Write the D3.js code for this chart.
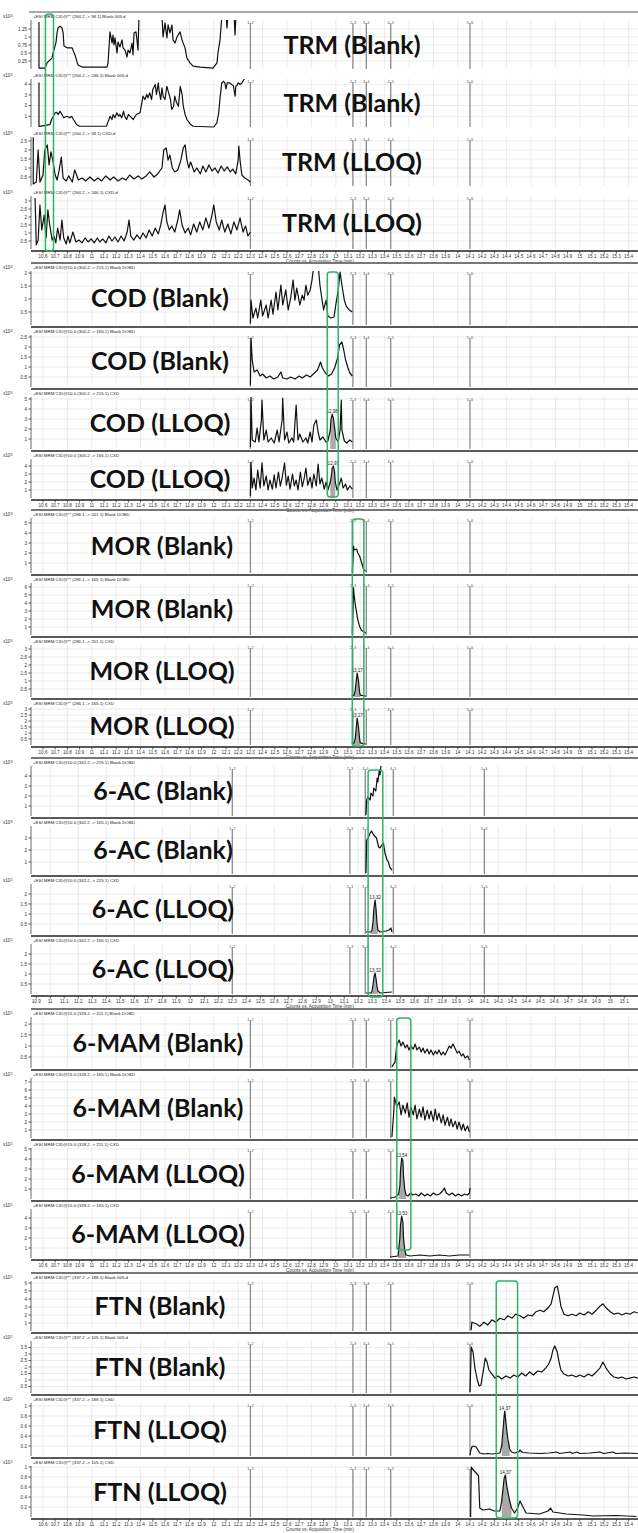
<!DOCTYPE html>
<html><head><meta charset="utf-8">
<script src="https://cdn.jsdelivr.net/npm/d3@7"></script>
<style>body{margin:0;background:#fff}svg{display:block}</style>
</head><body>
<script>
// ---------------- DATA ----------------
const panelTitles = [
 "TRM (Blank)","TRM (Blank)","TRM (LLOQ)","TRM (LLOQ)",
 "COD (Blank)","COD (Blank)","COD (LLOQ)","COD (LLOQ)",
 "MOR (Blank)","MOR (Blank)","MOR (LLOQ)","MOR (LLOQ)",
 "6-AC (Blank)","6-AC (Blank)","6-AC (LLOQ)","6-AC (LLOQ)",
 "6-MAM (Blank)","6-MAM (Blank)","6-MAM (LLOQ)","6-MAM (LLOQ)",
 "FTN (Blank)","FTN (Blank)","FTN (LLOQ)","FTN (LLOQ)"];
const panelHeaders = [
 "+ESI MRM CID@** (264.2 -> 58.1) Blank 005.d","+ESI MRM CID@** (264.2 -> 246.1) Blank 005.d",
 "+ESI MRM CID@** (264.2 -> 58.1) CXD.d","+ESI MRM CID@** (264.2 -> 246.1) CXD.d",
 "+ESI MRM CID@10.0 (300.2 -> 215.1) Blank DOBD","+ESI MRM CID@10.0 (300.2 -> 165.1) Blank DOBD",
 "+ESI MRM CID@10.0 (300.2 -> 215.1) CXD","+ESI MRM CID@10.0 (300.2 -> 165.1) CXD",
 "+ESI MRM CID@** (286.1 -> 201.1) Blank DOBD","+ESI MRM CID@** (286.1 -> 165.1) Blank DOBD",
 "+ESI MRM CID@** (286.1 -> 201.1) CXD","+ESI MRM CID@** (286.1 -> 165.1) CXD",
 "+ESI MRM CID@10.0 (342.2 -> 225.1) Blank DOBD","+ESI MRM CID@10.0 (342.2 -> 165.1) Blank DOBD",
 "+ESI MRM CID@10.0 (342.2 -> 225.1) CXD","+ESI MRM CID@10.0 (342.2 -> 165.1) CXD",
 "+ESI MRM CID@15.0 (328.2 -> 211.1) Blank DOBD","+ESI MRM CID@15.0 (328.2 -> 165.1) Blank DOBD",
 "+ESI MRM CID@15.0 (328.2 -> 211.1) CXD","+ESI MRM CID@15.0 (328.2 -> 165.1) CXD",
 "+ESI MRM CID@** (337.2 -> 188.1) Blank 005.d","+ESI MRM CID@** (337.2 -> 105.1) Blank 005.d",
 "+ESI MRM CID@** (337.2 -> 188.1) CSD","+ESI MRM CID@** (337.2 -> 105.1) CSD"];
const yExponents = [4,3,3,3, 4,4,3,3, 3,3,3,3, 3,3,2,2, 2,2,2,2, 2,2,2,2];
const yMaxima = [1.53,4.49,2.72,3.31, 2.08,2.6,5.2,4.875, 5.5,6.5,3.25,3.17, 5.0,4.0,2.5,2.5, 2.32,7.5,5.1,4.9, 6.25,4.0,1.06,1.02];
const yTickValues = [
 [0.25,0.5,0.75,1,1.25],[1,2,3,4],[0.5,1,1.5,2,2.5],[0.5,1,1.5,2,2.5,3],
 [0.5,1,1.5,2],[0.5,1,1.5,2,2.5],[1,2,3,4,5],[1,2,3,4],
 [1,2,3,4,5],[1,2,3,4,5,6],[0.5,1,1.5,2,2.5,3],[0.5,1,1.5,2,2.5,3],
 [1,2,3,4],[1,2,3],[0.5,1,1.5,2],[0.5,1,1.5,2],
 [0.5,1,1.5,2],[1,2,3,4,5,6,7],[1,2,3,4,5],[1,2,3,4],
 [1,2,3,4,5,6],[0.5,1,1.5,2,2.5,3,3.5],[0.2,0.4,0.6,0.8,1],[0.2,0.4,0.6,0.8,1]];
const xTickLabels = ["10.6","10.7","10.8","10.9","11","11.1","11.2","11.3","11.4","11.5","11.6","11.7","11.8","11.9","12","12.1","12.2","12.3","12.4","12.5","12.6","12.7","12.8","12.9","13","13.1","13.2","13.3","13.4","13.5","13.6","13.7","13.8","13.9","14","14.1","14.2","14.3","14.4","14.5","14.6","14.7","14.8","14.9","15","15.1","15.2","15.3","15.4"];
const xTickLabelsAC = ["10.9","11","11.1","11.2","11.3","11.4","11.5","11.6","11.7","11.8","11.9","12","12.1","12.2","12.3","12.4","12.5","12.6","12.7","12.8","12.9","13","13.1","13.2","13.3","13.4","13.5","13.6","13.7","13.8","13.9","14","14.1","14.2","14.3","14.4","14.5","14.6","14.7","14.8","14.9","15","15.1"];
const segmentTimes = [12.30, 13.14, 13.25, 13.45, 14.10];
const segmentLabels = [["1","2"],["2","3"],["3","4"],["4","5"],["5","6"]];
const windowBoxes = [[10.62,10.686],[12.93,13.02],[13.135,13.23],[13.27,13.375],[13.50,13.615],[14.315,14.49]];
const peakRanges = [null,null,null,null, null,null,[12.95,13.0],[12.955,12.995], null,null,[13.15,13.2],[13.15,13.2], null,null,[13.29,13.345],[13.29,13.345], null,null,[13.51,13.58],[13.51,13.58], null,null,[14.355,14.43],[14.355,14.44]];
const peakLabels = [null,null,null,null, null,null,"12.98","12.97", null,null,"13.17","13.17", null,null,"13.32","13.32", null,null,"13.54","13.53", null,null,"14.37","14.37"];

const traceTRM1 = [[10.567,1.47],[10.567,0.03],[10.616,0.03],[10.633,0.19],[10.657,0.28],[10.674,0.34],[10.682,0.5],[10.69,0.59],[10.707,0.84],[10.715,1.125],[10.723,1.28],[10.739,1.34],[10.756,1.28],[10.765,1.125],[10.772,0.72],[10.797,0.66],[10.838,0.66],[10.846,0.59],[10.862,0.44],[10.879,0.22],[10.887,0.125],[10.92,0.06],[11.125,0.06],[11.133,0.19],[11.149,1.16],[11.166,0.81],[11.174,1.06],[11.182,0.75],[11.19,0.97],[11.207,0.5],[11.215,0.84],[11.231,0.69],[11.248,0.91],[11.256,0.66],[11.272,0.59],[11.289,0.375],[11.297,0.59],[11.313,0.5],[11.33,0.81],[11.338,0.44],[11.346,1.125],[11.362,1.16],[11.37,0.91],[11.379,0.59],[11.387,1.7],[11.575,1.7],[11.584,1.0],[11.6,1.44],[11.616,0.97],[11.625,1.375],[11.641,1.125],[11.657,1.375],[11.666,0.91],[11.682,0.81],[11.698,1.0],[11.723,1.16],[11.739,0.91],[11.764,0.66],[11.78,0.34],[11.805,0.19],[11.83,0.09],[11.887,0.06],[11.993,0.03],[12.026,0.19],[12.034,0.5],[12.051,0.91],[12.067,1.7],[12.10,1.7],[12.108,1.28],[12.116,1.7],[12.166,1.7],[12.174,1.06],[12.182,1.7],[12.30,1.7]];
const traceTRM2 = [[10.567,4.16],[10.567,0.05],[10.657,0.23],[10.67,0.7],[10.685,1.0],[10.70,1.33],[10.71,1.38],[10.725,1.17],[10.74,1.48],[10.755,1.17],[10.77,0.86],[10.795,1.0],[10.82,0.86],[10.835,1.0],[10.85,0.7],[10.875,0.23],[10.90,0.07],[11.12,0.07],[11.13,0.39],[11.15,1.0],[11.165,0.7],[11.175,1.17],[11.19,0.86],[11.205,1.33],[11.22,1.0],[11.23,1.17],[11.245,0.86],[11.26,1.48],[11.27,1.0],[11.285,0.7],[11.30,1.17],[11.315,1.0],[11.34,0.7],[11.365,1.17],[11.395,1.33],[11.41,2.26],[11.42,2.88],[11.435,2.57],[11.45,3.04],[11.46,2.73],[11.475,3.2],[11.49,2.57],[11.50,3.5],[11.52,3.97],[11.53,3.04],[11.545,4.13],[11.55,3.5],[11.565,2.57],[11.575,3.66],[11.585,2.88],[11.60,2.57],[11.615,3.81],[11.63,3.2],[11.645,2.57],[11.655,1.64],[11.67,1.94],[11.68,2.88],[11.695,2.26],[11.71,1.94],[11.725,3.81],[11.74,3.04],[11.75,1.94],[11.765,1.17],[11.78,0.7],[11.81,0.23],[11.83,0.07],[12.00,0.0],[12.025,0.39],[12.04,1.33],[12.05,2.57],[12.065,4.13],[12.08,4.28],[12.09,4.13],[12.10,3.57],[12.11,4.13],[12.13,4.13],[12.145,3.97],[12.16,3.88],[12.175,2.88],[12.18,3.81],[12.19,3.88],[12.20,4.13],[12.215,3.97],[12.23,4.13],[12.255,4.6],[12.30,4.6]];
const traceTRM3 = [[10.52,2.7],[10.52,0.11],[10.545,0.22],[10.56,2.0],[10.575,0.22],[10.60,0.61],[10.615,2.0],[10.635,2.28],[10.65,1.17],[10.665,1.89],[10.68,1.44],[10.70,0.61],[10.715,0.33],[10.73,0.78],[10.75,1.61],[10.765,0.44],[10.79,0.28],[10.81,0.56],[10.84,0.22],[10.86,0.89],[10.89,0.33],[10.92,0.44],[10.95,0.28],[10.985,0.5],[11.02,0.28],[11.05,0.44],[11.08,0.28],[11.115,0.56],[11.15,0.33],[11.18,0.5],[11.215,0.28],[11.25,0.44],[11.28,0.33],[11.31,0.61],[11.345,0.39],[11.38,0.56],[11.41,0.39],[11.445,0.56],[11.475,0.78],[11.51,0.5],[11.54,0.67],[11.575,1.0],[11.59,2.0],[11.61,2.11],[11.625,1.44],[11.64,1.72],[11.66,1.0],[11.68,0.78],[11.705,0.89],[11.73,1.44],[11.75,2.11],[11.765,2.28],[11.78,1.44],[11.795,1.0],[11.81,1.33],[11.84,0.78],[11.86,1.0],[11.89,0.67],[11.91,1.11],[11.935,0.78],[11.96,1.17],[11.985,0.83],[12.01,1.0],[12.035,0.72],[12.06,1.11],[12.085,0.83],[12.11,1.06],[12.135,0.78],[12.155,0.94],[12.18,0.67],[12.20,1.44],[12.205,2.22],[12.215,1.44],[12.23,0.61],[12.255,0.44],[12.28,0.33],[12.30,0.22]];
const traceTRM4 = [[10.535,3.19],[10.545,0.25],[10.56,0.56],[10.575,2.75],[10.59,1.19],[10.61,2.12],[10.625,0.69],[10.64,2.44],[10.655,1.5],[10.675,0.56],[10.69,0.81],[10.705,0.38],[10.72,1.31],[10.74,0.56],[10.755,1.81],[10.77,0.69],[10.79,0.31],[10.805,0.81],[10.82,0.38],[10.845,1.06],[10.87,0.44],[10.895,0.56],[10.92,0.38],[10.945,0.69],[10.97,0.44],[10.995,0.63],[11.02,0.38],[11.045,0.69],[11.065,0.44],[11.09,0.63],[11.115,0.38],[11.14,0.81],[11.165,0.5],[11.19,0.75],[11.215,0.44],[11.24,0.81],[11.265,0.5],[11.29,1.06],[11.305,1.81],[11.32,0.81],[11.345,0.56],[11.37,0.88],[11.395,0.63],[11.42,1.0],[11.445,0.69],[11.47,1.19],[11.495,0.81],[11.52,1.31],[11.545,0.94],[11.565,1.5],[11.585,2.31],[11.60,2.75],[11.615,1.69],[11.635,1.19],[11.655,1.44],[11.68,1.06],[11.705,1.81],[11.72,2.44],[11.74,1.5],[11.765,1.0],[11.79,1.31],[11.81,0.88],[11.835,1.56],[11.86,1.06],[11.885,1.69],[11.91,1.19],[11.935,1.94],[11.96,1.31],[11.985,2.12],[12.00,2.75],[12.02,1.69],[12.045,1.19],[12.065,1.81],[12.09,1.06],[12.115,1.56],[12.14,0.94],[12.165,1.69],[12.19,1.19],[12.215,1.94],[12.24,1.06],[12.26,1.44],[12.28,0.81],[12.30,1.06]];
const traceCOD1 = [[12.30,0.08],[12.305,0.96],[12.32,0.27],[12.345,0.65],[12.36,0.27],[12.385,0.96],[12.40,0.35],[12.43,0.77],[12.445,0.27],[12.47,0.96],[12.485,0.42],[12.51,1.27],[12.525,0.58],[12.55,1.54],[12.565,0.77],[12.59,1.35],[12.61,0.58],[12.63,1.04],[12.65,1.73],[12.665,0.96],[12.68,1.42],[12.705,0.77],[12.725,1.15],[12.74,0.96],[12.755,1.54],[12.77,1.15],[12.79,1.35],[12.805,1.73],[12.82,2.3],[12.855,2.3],[12.87,1.54],[12.885,1.04],[12.90,0.58],[12.92,0.96],[12.935,0.35],[12.96,0.27],[12.985,0.31],[13.00,0.77],[13.02,1.35],[13.035,2.04],[13.05,1.54],[13.07,0.96],[13.085,0.73],[13.11,0.58],[13.135,0.5]];
const traceCOD2 = [[12.30,0.1],[12.305,2.45],[12.315,1.35],[12.33,0.75],[12.355,0.85],[12.38,0.55],[12.40,0.65],[12.43,0.45],[12.46,0.55],[12.49,0.4],[12.525,0.5],[12.55,0.75],[12.565,0.45],[12.60,0.4],[12.63,0.5],[12.665,0.4],[12.70,0.55],[12.725,0.45],[12.76,0.6],[12.79,0.5],[12.825,0.7],[12.85,0.85],[12.875,1.25],[12.89,0.95],[12.915,0.7],[12.94,0.55],[12.965,0.65],[12.99,0.95],[13.015,1.45],[13.03,2.1],[13.05,2.25],[13.065,1.85],[13.08,1.35],[13.10,0.95],[13.115,0.7],[13.135,0.55]];
const traceCOD3 = [[12.30,0.2],[12.305,5.2],[12.315,0.9],[12.34,0.7],[12.355,2.1],[12.37,0.7],[12.39,2.9],[12.395,4.9],[12.41,0.9],[12.43,1.9],[12.445,0.7],[12.47,1.1],[12.495,0.6],[12.52,1.9],[12.535,0.7],[12.56,2.9],[12.565,5.1],[12.58,0.9],[12.60,1.7],[12.615,0.6],[12.64,1.1],[12.655,0.7],[12.675,4.4],[12.69,0.9],[12.705,1.5],[12.73,0.7],[12.755,1.1],[12.77,0.6],[12.79,1.7],[12.805,0.7],[12.82,2.4],[12.84,2.9],[12.855,1.7],[12.87,0.9],[12.895,1.2],[12.92,0.7],[12.935,0.8],[12.955,1.9],[12.96,2.9],[12.97,3.5],[12.98,3.1],[12.99,2.1],[13.00,1.1],[13.02,0.7],[13.035,1.9],[13.045,4.9],[13.05,1.9],[13.07,0.8],[13.09,0.6],[13.115,0.9],[13.135,0.7]];
const traceCOD4 = [[12.30,0.25],[12.305,4.5],[12.315,1.25],[12.33,2.5],[12.345,1.0],[12.36,3.5],[12.38,1.25],[12.395,4.4],[12.41,1.5],[12.43,2.75],[12.445,1.0],[12.46,2.25],[12.48,1.1],[12.495,2.9],[12.51,1.25],[12.53,3.25],[12.545,1.5],[12.56,2.5],[12.58,4.4],[12.595,1.6],[12.61,2.75],[12.625,1.1],[12.645,3.0],[12.66,1.5],[12.675,2.25],[12.69,1.0],[12.71,3.25],[12.725,1.4],[12.74,2.4],[12.755,3.75],[12.77,1.6],[12.79,2.6],[12.805,1.25],[12.82,3.0],[12.84,1.5],[12.855,4.25],[12.87,1.75],[12.885,2.5],[12.905,1.1],[12.92,2.0],[12.935,1.0],[12.955,2.0],[12.965,2.9],[12.97,3.75],[12.98,4.0],[12.99,3.25],[12.995,2.0],[13.01,1.0],[13.03,1.75],[13.045,2.5],[13.06,1.25],[13.08,1.75],[13.095,1.0],[13.115,1.5],[13.135,1.1]];
const traceMOR1 = [[13.135,0.1],[13.145,2.7],[13.15,2.3],[13.17,2.4],[13.18,2.0],[13.195,1.7],[13.21,1.1],[13.22,0.7],[13.23,0.3],[13.245,0.2]];
const traceMOR2 = [[13.135,0.12],[13.145,5.9],[13.15,5.0],[13.16,3.75],[13.17,2.9],[13.18,1.9],[13.195,1.1],[13.21,0.6],[13.23,0.4],[13.245,0.25]];
const traceMOR3 = [[13.13,0.06],[13.15,0.12],[13.16,0.44],[13.17,1.19],[13.175,1.5],[13.185,1.06],[13.195,0.31],[13.20,0.12],[13.245,0.06]];
const traceMOR4 = [[13.13,0.08],[13.15,0.17],[13.16,0.58],[13.17,1.67],[13.175,2.25],[13.185,1.58],[13.195,0.5],[13.20,0.17],[13.245,0.08]];
const traceAC1 = [[13.255,0.1],[13.26,1.6],[13.27,1.9],[13.285,1.6],[13.29,2.3],[13.305,2.0],[13.31,2.8],[13.325,2.5],[13.335,3.8],[13.34,3.4],[13.35,4.6],[13.355,4.1],[13.36,4.8],[13.37,5.6],[13.44,5.6]];
const traceAC2 = [[13.255,0.08],[13.26,2.83],[13.27,3.0],[13.285,3.42],[13.295,3.58],[13.31,3.25],[13.33,3.0],[13.345,2.25],[13.355,2.17],[13.37,2.42],[13.38,2.58],[13.39,1.75],[13.405,1.17],[13.415,1.0],[13.425,0.58],[13.44,0.33]];
const traceAC3 = [[13.255,0.1],[13.29,0.1],[13.298,0.2],[13.305,0.6],[13.312,1.3],[13.32,1.7],[13.326,1.3],[13.333,0.6],[13.34,0.2],[13.355,0.1],[13.398,0.15],[13.42,0.2],[13.433,0.3],[13.44,0.1]];
const traceAC4 = [[13.255,0.05],[13.29,0.05],[13.298,0.15],[13.305,0.45],[13.312,0.85],[13.32,1.05],[13.326,0.8],[13.333,0.4],[13.34,0.15],[13.355,0.05],[13.44,0.1]];
const traceMAM1 = [[13.46,0.05],[13.485,0.27],[13.50,1.05],[13.52,1.27],[13.535,1.0],[13.55,1.18],[13.57,0.91],[13.585,1.05],[13.60,0.82],[13.615,1.0],[13.635,0.86],[13.65,1.09],[13.665,0.82],[13.685,0.95],[13.70,0.73],[13.715,0.91],[13.73,0.68],[13.75,0.86],[13.765,0.64],[13.78,0.82],[13.80,0.59],[13.815,0.77],[13.83,0.64],[13.845,0.82],[13.865,0.59],[13.88,0.73],[13.895,0.59],[13.915,0.82],[13.93,1.0],[13.945,0.91],[13.96,1.09],[13.98,0.86],[13.995,0.68],[14.01,0.77],[14.03,0.55],[14.045,0.64],[14.06,0.45],[14.08,0.55],[14.095,0.36]];
const traceMAM2 = [[13.46,0.12],[13.475,3.25],[13.48,5.1],[13.50,3.9],[13.52,4.5],[13.535,2.9],[13.55,4.1],[13.57,3.1],[13.585,4.4],[13.60,2.6],[13.615,3.9],[13.635,2.9],[13.65,4.1],[13.665,2.4],[13.685,3.6],[13.70,2.6],[13.715,3.9],[13.73,2.25],[13.75,3.5],[13.765,2.4],[13.78,3.4],[13.80,2.1],[13.815,3.6],[13.83,2.25],[13.845,3.1],[13.865,1.9],[13.88,2.9],[13.895,1.6],[13.915,2.6],[13.93,1.5],[13.945,2.4],[13.96,1.4],[13.98,2.1],[13.995,1.1],[14.01,2.0],[14.03,1.0],[14.045,1.75],[14.06,0.9],[14.08,1.5],[14.095,0.75]];
const traceMAM3 = [[13.445,0.1],[13.49,0.2],[13.515,0.5],[13.525,1.3],[13.53,2.8],[13.54,4.1],[13.55,3.8],[13.555,2.3],[13.565,1.0],[13.575,0.4],[13.59,0.3],[13.615,0.6],[13.63,0.4],[13.655,0.5],[13.68,0.3],[13.70,0.6],[13.73,0.3],[13.75,0.5],[13.775,0.3],[13.80,0.6],[13.825,0.4],[13.85,0.5],[13.875,0.8],[13.89,1.1],[13.905,0.6],[13.93,0.4],[13.955,0.6],[13.98,0.3],[14.005,0.5],[14.03,0.3],[14.055,0.5],[14.08,0.4],[14.095,0.6],[14.10,1.1]];
const traceMAM4 = [[13.445,0.1],[13.51,0.2],[13.515,0.8],[13.525,2.0],[13.53,3.3],[13.54,4.2],[13.55,3.6],[13.555,2.0],[13.565,0.8],[13.575,0.3],[13.61,0.2],[13.69,0.3],[13.77,0.2],[13.85,0.3],[13.93,0.2],[14.01,0.3],[14.095,0.3]];
const traceFTN1 = [[14.11,0.12],[14.115,1.1],[14.15,0.9],[14.18,0.6],[14.215,1.1],[14.245,0.75],[14.28,1.4],[14.31,1.1],[14.345,1.6],[14.38,1.4],[14.41,1.9],[14.445,1.6],[14.475,2.1],[14.51,1.9],[14.54,1.6],[14.575,2.0],[14.61,1.9],[14.64,2.4],[14.675,2.6],[14.705,2.4],[14.74,2.9],[14.765,3.4],[14.78,4.4],[14.795,5.4],[14.815,5.6],[14.83,4.5],[14.845,3.1],[14.87,2.1],[14.905,1.9],[14.935,2.1],[14.97,1.9],[15.00,2.25],[15.035,2.0],[15.07,2.4],[15.10,2.1],[15.135,2.6],[15.165,3.1],[15.19,3.4],[15.215,2.9],[15.25,2.4],[15.28,2.1],[15.315,2.25],[15.345,2.0],[15.38,2.25],[15.41,2.1],[15.445,2.4],[15.475,2.25]];
const traceFTN2 = [[14.10,0.08],[14.11,3.54],[14.125,3.15],[14.14,1.92],[14.16,1.0],[14.175,0.54],[14.19,0.62],[14.21,1.77],[14.225,2.69],[14.24,2.38],[14.255,1.77],[14.28,1.46],[14.305,1.15],[14.33,1.31],[14.36,1.08],[14.395,1.31],[14.43,1.15],[14.46,1.38],[14.49,1.23],[14.525,1.54],[14.555,1.31],[14.59,1.62],[14.62,1.38],[14.655,1.69],[14.69,1.62],[14.72,1.92],[14.745,2.23],[14.765,2.69],[14.78,3.31],[14.795,3.62],[14.815,3.15],[14.83,2.38],[14.845,1.77],[14.87,1.46],[14.905,1.31],[14.935,1.38],[14.97,1.23],[15.00,1.38],[15.035,1.23],[15.07,1.46],[15.10,1.31],[15.135,1.62],[15.165,1.92],[15.19,2.38],[15.215,1.92],[15.25,1.46],[15.28,1.23],[15.315,1.15],[15.345,1.23],[15.38,1.08],[15.41,1.15],[15.445,1.23],[15.475,1.15]];
const traceFTN3 = [[14.10,0.02],[14.105,0.1],[14.115,0.18],[14.13,0.2],[14.15,0.18],[14.165,0.12],[14.18,0.06],[14.215,0.04],[14.245,0.05],[14.28,0.04],[14.31,0.05],[14.345,0.06],[14.36,0.2],[14.37,0.5],[14.38,0.8],[14.385,0.9],[14.39,0.78],[14.40,0.54],[14.41,0.34],[14.42,0.22],[14.425,0.14],[14.44,0.08],[14.465,0.06],[14.50,0.08],[14.51,0.12],[14.53,0.07],[14.585,0.06],[14.67,0.05],[14.75,0.06],[14.81,0.08],[14.835,0.05],[14.92,0.08],[14.94,0.05],[14.975,0.08],[15.00,0.05],[15.08,0.06],[15.165,0.08],[15.195,0.05],[15.27,0.08],[15.295,0.05],[15.37,0.06],[15.475,0.05]];
const traceFTN4 = [[14.105,0.0],[14.11,1.0],[14.12,0.96],[14.135,0.92],[14.15,0.88],[14.165,0.84],[14.17,0.82],[14.18,0.18],[14.205,0.14],[14.26,0.16],[14.30,0.12],[14.345,0.12],[14.36,0.32],[14.38,0.78],[14.39,0.84],[14.40,0.64],[14.42,0.38],[14.44,0.18],[14.465,0.08],[14.49,0.18],[14.51,0.32],[14.53,0.22],[14.56,0.08],[14.67,0.06],[14.74,0.12],[14.76,0.18],[14.78,0.1],[14.89,0.06],[15.025,0.04],[15.11,0.02],[15.30,0.03],[15.465,0.01]];
const traces = [traceTRM1,traceTRM2,traceTRM3,traceTRM4,traceCOD1,traceCOD2,traceCOD3,traceCOD4,traceMOR1,traceMOR2,traceMOR3,traceMOR4,traceAC1,traceAC2,traceAC3,traceAC4,traceMAM1,traceMAM2,traceMAM3,traceMAM4,traceFTN1,traceFTN2,traceFTN3,traceFTN4];

// ---------------- LAYOUT ----------------
const W = 638, H = 1533;
const plotLeft = 31, plotRight = 638;
const groupBounds = [[12,71,129,188,251],[263,327,389,451,500],[510,575,637,699,747],[758,818,876,936,996],[1009,1070,1140,1201,1260],[1273,1333,1395,1458,1519]];
const titleCx = [352,160,162,163,158,160];
const boxY = [[14,251],[272,497],[519,746],[770,997],[1018,1250],[1281,1518]];

const svg = d3.select("body").append("svg").attr("width",W).attr("height",H)
  .style("font-family","'Liberation Sans', Arial, sans-serif");
svg.append("rect").attr("width",W).attr("height",H).attr("fill","#fff");

const baseX = d3.scaleLinear().domain([10.6,15.4]).range([43,628.6]);
const acX = d3.scaleLinear().domain([12.3,14.1]).range([232.3,484.3]);
function visible(s){return d3.scaleLinear().domain([s.invert(plotLeft),s.invert(plotRight)]).range([plotLeft,plotRight]);}

const defs = svg.append("defs");

groupBounds.forEach((b,gi)=>{
  const xs = visible(gi===3?acX:baseX);
  const labels = (gi===3?xTickLabelsAC:xTickLabels).filter(d=>xs(+d)<plotRight-6);
  const g = svg.append("g");
  const gridTimes = labels.map(Number).filter(t=>Math.round(t*10)%2===0);
  for(let pi=0;pi<4;pi++){
    const k = gi*4+pi;
    const top=b[pi], bot=b[pi+1];
    const pt=top+8, pb=bot-2;
    const ys = d3.scaleLinear().domain([0,yMaxima[k]]).range([pb,pt]);
    const p = g.append("g");
    p.selectAll(".gv").data(gridTimes).join("line")
      .attr("x1",d=>xs(d)).attr("x2",d=>xs(d)).attr("y1",pt).attr("y2",pb)
      .attr("stroke","#e6e6e6").attr("stroke-width",0.8);
    p.selectAll(".gh").data(yTickValues[k]).join("line")
      .attr("x1",plotLeft).attr("x2",plotRight).attr("y1",d=>ys(d)).attr("y2",d=>ys(d))
      .attr("stroke","#e6e6e6").attr("stroke-width",0.8);
    p.append("line").attr("x1",plotLeft).attr("x2",plotLeft).attr("y1",pt).attr("y2",pb).attr("stroke","#444").attr("stroke-width",0.8);
    p.selectAll(".yt").data(yTickValues[k]).join("line")
      .attr("x1",plotLeft-2.5).attr("x2",plotLeft).attr("y1",d=>ys(d)).attr("y2",d=>ys(d))
      .attr("stroke","#333").attr("stroke-width",0.8);
    p.selectAll(".yl").data(yTickValues[k]).join("text")
      .attr("x",plotLeft-4).attr("y",d=>ys(d)+1.6).attr("text-anchor","end")
      .attr("font-size",4.6).attr("fill","#333").text(d=>d);
    const ex = p.append("text").attr("x",3).attr("y",top+6).attr("font-size",4.6).attr("fill","#333");
    ex.append("tspan").text("x10");
    ex.append("tspan").attr("dy",-1.5).attr("font-size",3.6).text(yExponents[k]);
    p.append("text").attr("x",plotLeft+2).attr("y",top+5.5).attr("font-size",4.4).attr("fill","#222")
      .text(panelHeaders[k]);
    segmentTimes.forEach((t,si)=>{
      const x = xs(t);
      p.append("line").attr("x1",x).attr("x2",x).attr("y1",pt+3).attr("y2",pb)
        .attr("stroke","#8a8a8a").attr("stroke-width",1.3);
      p.append("text").attr("x",x-1).attr("y",pt+4).attr("text-anchor","end").attr("font-size",4).attr("fill","#555").text(segmentLabels[si][0]);
      p.append("text").attr("x",x+1).attr("y",pt+4).attr("font-size",4).attr("fill","#555").text(segmentLabels[si][1]);
    });
    const cid = "clip"+k;
    defs.append("clipPath").attr("id",cid).append("rect")
      .attr("x",plotLeft).attr("y",pt).attr("width",plotRight-plotLeft).attr("height",pb-pt+1);
    const tg = p.append("g").attr("clip-path",`url(#${cid})`);
    const tr = traces[k];
    if(peakRanges[k]){
      const r = peakRanges[k];
      const sub = tr.filter(d=>d[0]>=r[0]&&d[0]<=r[1]);
      tg.append("path").datum(sub)
        .attr("d",d3.area().x(d=>xs(d[0])).y0(ys(0)).y1(d=>ys(d[1])))
        .attr("fill","#a9a9a9");
      const apex = sub.reduce((a,c)=>c[1]>a[1]?c:a);
      p.append("text").attr("x",xs(apex[0])).attr("y",ys(apex[1])-1.5).attr("text-anchor","middle")
        .attr("font-size",4.6).attr("fill","#222").text(peakLabels[k]);
    }
    tg.append("path").datum(tr)
      .attr("d",d3.line().x(d=>xs(d[0])).y(d=>ys(d[1])))
      .attr("fill","none").attr("stroke","#111").attr("stroke-width",1.2).attr("stroke-linejoin","round");
    p.append("text").attr("x",titleCx[gi]).attr("y",(pt+pb)/2+9).attr("text-anchor","middle")
      .attr("font-family","Lato, 'Open Sans', sans-serif").attr("font-weight","bold")
      .attr("font-size",25).attr("fill","#111").text(panelTitles[k]);
    if(gi>0 && pi<3){
      p.append("line").attr("x1",plotLeft).attr("x2",plotRight).attr("y1",bot).attr("y2",bot)
        .attr("stroke","#5a5a5a").attr("stroke-width",2.2);
    }
  }
  if(gi>0){
    g.append("line").attr("x1",plotLeft).attr("x2",plotRight).attr("y1",b[0]).attr("y2",b[0]).attr("stroke","#777").attr("stroke-width",2);
  } else {
    g.append("line").attr("x1",plotLeft-2).attr("x2",plotRight).attr("y1",b[0]).attr("y2",b[0]).attr("stroke","#555").attr("stroke-width",1);
  }
  const ay = b[4];
  g.append("line").attr("x1",plotLeft).attr("x2",plotRight).attr("y1",ay).attr("y2",ay).attr("stroke","#222").attr("stroke-width",1.6);
  g.selectAll(".xt").data(labels).join("line")
    .attr("x1",d=>xs(+d)).attr("x2",d=>xs(+d)).attr("y1",ay).attr("y2",ay+2.5).attr("stroke","#333").attr("stroke-width",0.8);
  g.selectAll(".xl").data(labels).join("text")
    .attr("x",d=>xs(+d)).attr("y",ay+6.5).attr("text-anchor","middle").attr("font-size",4.6).attr("fill","#333").text(d=>d);
  g.append("text").attr("x",320).attr("y",ay+11.5).attr("text-anchor","middle").attr("font-size",4.6).attr("fill","#333")
    .text("Counts vs. Acquisition Time (min)");
  const wb = windowBoxes[gi];
  g.append("rect").attr("x",xs(wb[0])).attr("y",boxY[gi][0]).attr("width",xs(wb[1])-xs(wb[0])).attr("height",boxY[gi][1]-boxY[gi][0])
    .attr("rx",3).attr("fill","none").attr("stroke","#2fb36a").attr("stroke-width",1.5);
});
</script></body></html>
